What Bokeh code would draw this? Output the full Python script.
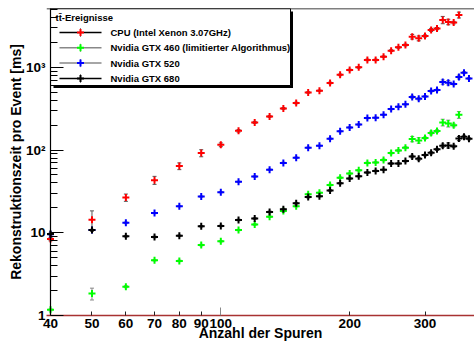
from math import log10
from bokeh.plotting import figure
from bokeh.models import ColumnDataSource, Whisker, TeeHead, FixedTicker, Span, Range1d
from bokeh.core.properties import value
from bokeh.embed import file_html
from bokeh.resources import INLINE

# ---------------- data ----------------
tracks_cpu = [40, 50, 60, 70, 80, 90, 100, 110, 120, 130, 140, 150, 160, 170, 180, 190, 200,
              210, 220, 230, 240, 250, 260, 270, 280, 290, 300, 310, 320, 330, 340, 350, 360]
time_cpu = [8.4, 14.4, 26.7, 43.3, 64, 92, 116, 171, 216, 255, 319, 371, 498, 522, 648, 812, 931,
            1000, 1231, 1231, 1347, 1593, 1746, 1866, 2353, 2244, 2399, 2837, 2944, 3750, 3546, 3477, 4305]
err_cpu = [0.4, 4.0, 2.7, 4.8, 6, 9, 6, 6, 6, 6, 8, 8, 10, 10, 14, 18, 20,
           22, 28, 28, 30, 40, 45, 50, 150, 150, 70, 120, 90, 380, 270, 120, 350]

tracks_460 = [40, 50, 60, 70, 80, 90, 100, 110, 120, 130, 140, 150, 160, 170, 180, 190, 200,
              210, 220, 230, 240, 250, 260, 270, 280, 290, 300, 310, 320, 330, 340, 350, 360]
time_460 = [1.17, 1.84, 2.23, 4.66, 4.57, 7.1, 7.9, 10.8, 12.6, 15.6, 18.3, 21, 29.3, 30.4, 37.8, 46.3, 52,
            57, 70, 71, 76, 92, 99, 107, 136, 131, 140, 161, 170, 216, 210, 199, 267]
err_460 = [0.03, 0.3, 0.06, 0.1, 0.1, 0.15, 0.15, 0.2, 0.25, 0.3, 0.4, 0.4, 0.6, 0.6, 0.8, 1, 1,
           1.2, 1.5, 1.5, 2, 2, 2.5, 3, 10, 10, 4, 8, 6, 20, 20, 8, 25]

tracks_520 = [40, 50, 60, 70, 80, 90, 100, 110, 120, 130, 140, 150, 160, 170, 180, 190, 200,
              210, 220, 230, 240, 250, 260, 270, 280, 290, 300, 310, 320, 330, 340, 350, 360, 370, 380]
time_520 = [9.6, 10.8, 13.2, 17.3, 21, 27.4, 31, 41.3, 47.9, 58, 70, 81, 107, 113, 137, 169, 188,
            204, 244, 246, 267, 313, 334, 357, 438, 418, 446, 518, 533, 666, 653, 629, 765, 863, 736]
err_520 = [0.2, 0.2, 0.3, 0.3, 0.4, 0.5, 0.6, 0.8, 1, 1.2, 1.4, 1.6, 2, 2, 3, 3, 4,
           4, 5, 5, 5, 6, 7, 7, 15, 15, 9, 14, 12, 40, 40, 15, 40, 25, 15]

tracks_680 = [40, 50, 60, 70, 80, 90, 100, 110, 120, 130, 140, 150, 160, 170, 180, 190, 200,
              210, 220, 230, 240, 250, 260, 270, 280, 290, 300, 310, 320, 330, 340, 350, 360, 370, 380]
time_680 = [9.7, 10.8, 9.1, 8.9, 9.2, 12.0, 12.1, 14.3, 14.9, 17.9, 19.3, 22.8, 27, 27.7, 32.5, 39.8, 45.3,
            48.4, 53.5, 56, 57.7, 68.8, 68.8, 73.6, 83.6, 78.5, 87, 92.7, 102, 113, 114, 111, 138, 145, 137]
err_680 = [0.2, 0.2, 0.2, 0.2, 0.2, 0.25, 0.25, 0.3, 0.3, 0.4, 0.4, 0.5, 0.6, 0.6, 0.7, 0.8, 1,
           1, 1.2, 1.2, 1.2, 1.5, 1.5, 1.6, 3, 3, 2, 3, 3, 5, 8, 4, 8, 6, 4]

series_names = ["CPU (Intel Xenon 3.07GHz)", "Nvidia GTX 460 (limitierter Algorithmus)",
                "Nvidia GTX 520", "Nvidia GTX 680"]
legend_header = "t\u0074\u0304-Ereignisse"

x_tick_values = [40, 50, 60, 70, 80, 90, 100, 200, 300]
x_tick_labels = ["40", "50", "60", "70", "80", "90", "100", "200", "300"]
y_tick_values = [1, 10, 100, 1000]
y_tick_labels = ["1", "10", "10\u00b2", "10\u00b3"]

x_title = "Anzahl der Spuren"
y_title = "Rekonstruktionszeit pro Event [ms]"

# ---------------- styling ----------------
FONT = "Liberation Sans"
marker_colors = ["#ff0000", "#00ff00", "#0000ff", "#000000"]
line_colors = ["#000000", "#888888", "#888888", "#000000"]
bar_colors = ["#555555", "#888888", "#888888", "#444444"]

W, H = 474, 344
AXIS_PX = 50            # pixel column of the y axis line (value 40)
FL, FR, FT, FB = 46, 474, 8, 315
PX_PER_DECADE = 428.0
X_AXIS_VALUE = 40
X0 = X_AXIS_VALUE * 10 ** ((FL - AXIS_PX) / PX_PER_DECADE)
X1 = X_AXIS_VALUE * 10 ** ((FR - AXIS_PX) / PX_PER_DECADE)
Y0, Y1 = 1, 5150


def dx(px):
    return 10 ** (log10(X0) + (px - FL) / (FR - FL) * (log10(X1) - log10(X0)))


def dy(py):
    return 10 ** (log10(Y0) + (FB - py) / (FB - FT) * (log10(Y1) - log10(Y0)))


p = figure(width=W, height=H, x_axis_type="log", y_axis_type="log",
           x_range=Range1d(X0, X1), y_range=Range1d(Y0, Y1),
           output_backend="svg", toolbar_location=None,
           min_border_left=FL, min_border_right=0, min_border_top=FT, min_border_bottom=H - FB)
p.grid.visible = False
p.outline_line_color = None
p.background_fill_color = "white"
p.border_fill_color = "white"

xa = p.xaxis[0]
xa.ticker = FixedTicker(ticks=x_tick_values, minor_ticks=[100])
xa.major_label_overrides = {v: l for v, l in zip(x_tick_values, x_tick_labels)}
xa.major_tick_in = 4
xa.major_tick_out = 0
xa.major_tick_line_color = "#222222"
xa.minor_tick_in = 8
xa.minor_tick_out = 0
xa.minor_tick_line_color = "#888888"
xa.axis_line_color = "#a83232"
xa.axis_line_width = 1.5
xa.major_label_text_font = FONT
xa.major_label_text_font_style = "bold"
xa.major_label_text_font_size = "13.5px"
xa.major_label_text_color = "black"
xa.major_label_standoff = 3
xa.axis_label = x_title
xa.axis_label_text_font = FONT
xa.axis_label_text_font_style = "bold"
xa.axis_label_text_font_size = "14px"
xa.axis_label_text_color = "black"
xa.axis_label_standoff = -6

ya = p.yaxis[0]
minor_y = [m * 10 ** d for d in range(0, 4) for m in range(2, 10) if m * 10 ** d < Y1]
ya.ticker = FixedTicker(ticks=y_tick_values, minor_ticks=minor_y)
ya.major_label_overrides = {v: l for v, l in zip(y_tick_values, y_tick_labels)}
shift = AXIS_PX - FL
ya.major_tick_in = 13 + shift
ya.major_tick_out = -shift
ya.minor_tick_in = 7 + shift
ya.minor_tick_out = -shift
ya.major_tick_line_color = "black"
ya.minor_tick_line_color = "black"
ya.axis_line_color = None
ya.major_label_text_font = FONT
ya.major_label_text_font_style = "bold"
ya.major_label_text_font_size = "13.5px"
ya.major_label_text_color = "black"
ya.major_label_standoff = 5
ya.axis_label = y_title
ya.axis_label_text_font = FONT
ya.axis_label_text_font_style = "bold"
ya.axis_label_text_font_size = "14px"
ya.axis_label_text_color = "black"
ya.axis_label_standoff = -1

p.add_layout(Span(location=Y1, dimension="width", line_color="black", line_width=1.5))
p.add_layout(Span(location=X_AXIS_VALUE, dimension="height", line_color="black", line_width=1.2))

# ---------------- series ----------------
all_series = [(tracks_cpu, time_cpu, err_cpu), (tracks_460, time_460, err_460),
              (tracks_520, time_520, err_520), (tracks_680, time_680, err_680)]
for (xs, ys, es), mc, bc in zip(all_series, marker_colors, bar_colors):
    src = ColumnDataSource(dict(x=xs, y=ys,
                                lo=[v - e for v, e in zip(ys, es)],
                                hi=[v + e for v, e in zip(ys, es)]))
    w = Whisker(base="x", lower="lo", upper="hi", source=src, dimension="height",
                line_color=bc, line_width=1, level="underlay",
                upper_head=TeeHead(size=4, line_color=bc, line_width=1),
                lower_head=TeeHead(size=4, line_color=bc, line_width=1))
    p.add_layout(w)
    p.scatter("x", "y", source=src, marker="cross", size=7, line_width=2, line_color=mc)

# ---------------- legend (drawn by hand, ROOT style) ----------------
p.quad(left=[dx(53)], right=[dx(292.5)], top=[dy(11)], bottom=[dy(87.5)],
       fill_color="black", line_color=None)
p.quad(left=[dx(50)], right=[dx(290)], top=[dy(8)], bottom=[dy(85)],
       fill_color="white", line_color="black", line_width=1)
p.text(x=[dx(55)], y=[dy(16.5)], text=[legend_header], text_font=value(FONT),
       text_font_style="bold", text_font_size="9.5px", text_baseline="middle", text_color="black")
rows = [32, 47.3, 62.6, 78]
for row, name, mc, lc in zip(rows, series_names, marker_colors, line_colors):
    p.segment(x0=[dx(59)], x1=[dx(101)], y0=[dy(row)], y1=[dy(row)], line_color=lc, line_width=1.5)
    p.segment(x0=[dx(80)], x1=[dx(80)], y0=[dy(row - 4)], y1=[dy(row + 4)], line_color=lc, line_width=1)
    p.scatter(x=[dx(80)], y=[dy(row)], marker="cross", size=7, line_width=2, line_color=mc)
    p.text(x=[dx(110)], y=[dy(row)], text=[name], text_font=value(FONT), text_font_style="bold",
           text_font_size="9.5px", text_baseline="middle", text_color="black")

open("out.html", "w").write(file_html(p, INLINE))
